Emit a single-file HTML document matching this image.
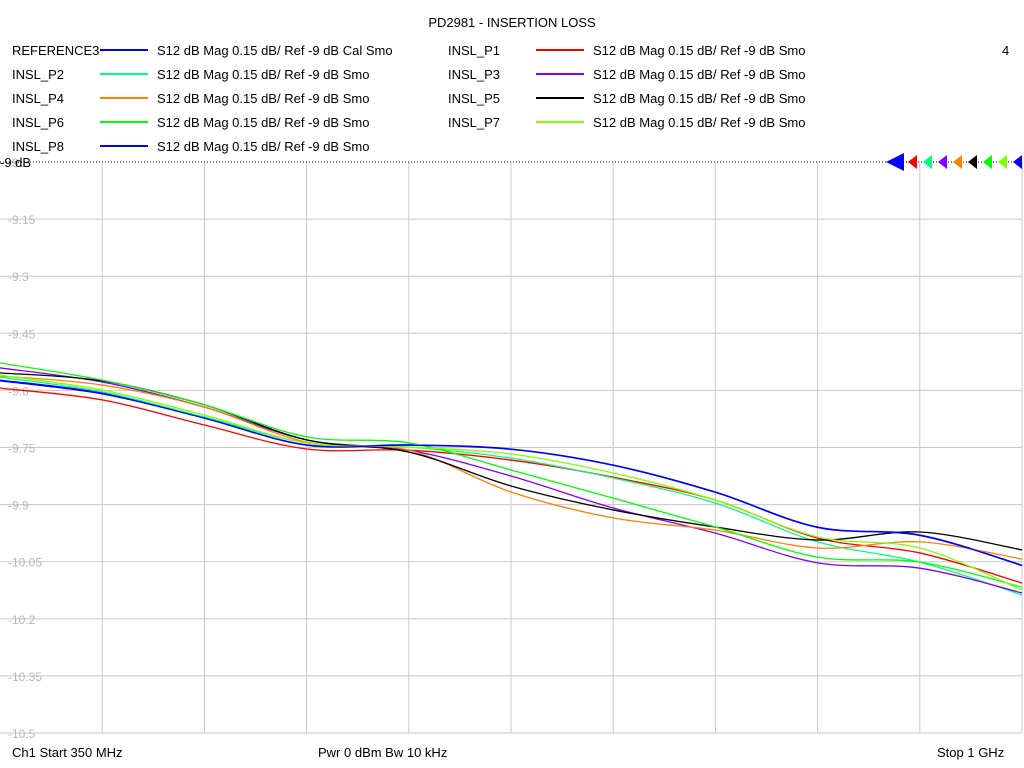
<!DOCTYPE html>
<html><head><meta charset="utf-8"><style>
body{margin:0;background:#fff;}
svg{display:block;font-family:"Liberation Sans",sans-serif;}
</style></head><body>
<svg id="chart" width="1024" height="768" viewBox="0 0 1024 768">
<rect width="1024" height="768" fill="#fff"/>
<text x="512" y="27" font-size="13" text-anchor="middle" fill="#000">PD2981 - INSERTION LOSS</text>
<g id="legend" font-size="13" fill="#000"></g>
<text x="1002" y="55" font-size="13">4</text>
<g id="grid"></g>
<g id="ylabels" font-size="12" fill="#b8b8b8"></g>
<line x1="0" y1="162" x2="1022" y2="162" stroke="#000" stroke-dasharray="1,2"/>
<text x="0" y="167" font-size="13" fill="#000">-9 dB</text>
<g id="markers"></g>
<g id="series"></g>
<text x="12" y="757" font-size="13">Ch1  Start  350 MHz</text>
<text x="318" y="757" font-size="13">Pwr  0 dBm  Bw  10 kHz</text>
<text x="937" y="757" font-size="13">Stop  1 GHz</text>
</svg>
<script>
const NS="http://www.w3.org/2000/svg";
const freqs=[350,415,480,545,610,675,740,805,870,935,1000];
const yTicks=[-9,-9.15,-9.3,-9.45,-9.6,-9.75,-9.9,-10.05,-10.2,-10.35,-10.5];
const seriesNames=["REFERENCE3","INSL_P1","INSL_P2","INSL_P3","INSL_P4","INSL_P5","INSL_P6","INSL_P7","INSL_P8"];
const seriesColors=["#0000ff","#ff0000","#00ff80","#8000ff","#ff8000","#000000","#00ff00","#80ff00","#0000ff"];
const seriesDesc=["S12  dB Mag  0.15 dB/ Ref -9 dB  Cal Smo","S12  dB Mag  0.15 dB/ Ref -9 dB  Smo","S12  dB Mag  0.15 dB/ Ref -9 dB  Smo","S12  dB Mag  0.15 dB/ Ref -9 dB  Smo","S12  dB Mag  0.15 dB/ Ref -9 dB  Smo","S12  dB Mag  0.15 dB/ Ref -9 dB  Smo","S12  dB Mag  0.15 dB/ Ref -9 dB  Smo","S12  dB Mag  0.15 dB/ Ref -9 dB  Smo","S12  dB Mag  0.15 dB/ Ref -9 dB  Smo"];
const ref3=[-9.573,-9.607,-9.672,-9.743,-9.743,-9.754,-9.796,-9.867,-9.959,-9.980,-10.059];
const p1=[-9.594,-9.625,-9.691,-9.754,-9.757,-9.783,-9.828,-9.888,-9.988,-10.027,-10.106];
const p2=[-9.565,-9.604,-9.670,-9.738,-9.749,-9.778,-9.830,-9.896,-9.998,-10.051,-10.137];
const p3=[-9.541,-9.578,-9.644,-9.730,-9.757,-9.825,-9.909,-9.975,-10.053,-10.067,-10.132];
const p4=[-9.562,-9.586,-9.644,-9.736,-9.757,-9.867,-9.935,-9.967,-10.014,-9.998,-10.043];
const p5=[-9.554,-9.575,-9.638,-9.730,-9.762,-9.851,-9.914,-9.959,-9.993,-9.972,-10.019];
const p6=[-9.528,-9.573,-9.638,-9.722,-9.738,-9.809,-9.883,-9.959,-10.038,-10.051,-10.117];
const p7=[-9.560,-9.599,-9.665,-9.738,-9.749,-9.767,-9.817,-9.888,-9.985,-10.014,-10.124];
const p8=[-9.575,-9.609,-9.673,-9.744,-9.744,-9.755,-9.797,-9.868,-9.960,-9.981,-10.060];
const seriesData=[ref3,p1,p2,p3,p4,p5,p6,p7,p8];

const X0=0,X1=1022,Y0=162,Y1=733;
const xScale=f=>X0+(f-350)/(1000-350)*(X1-X0);
const yScale=v=>Y0+(-9-v)/1.5*(Y1-Y0);

function mk(tag,attrs,parent){const e=document.createElementNS(NS,tag);for(const k in attrs)e.setAttribute(k,attrs[k]);parent.appendChild(e);return e;}

const grid=document.getElementById('grid');
for(let i=1;i<=10;i++){const x=X0+i*(X1-X0)/10;
const l=mk('line',{x1:x,y1:Y0,x2:x,y2:Y1,stroke:'#c8c8c8'},grid);

}
const yl=document.getElementById('ylabels');
yTicks.forEach((t,i)=>{const y=yScale(t);
if(i>0){const l=mk('line',{x1:0,y1:y,x2:X1,y2:y,stroke:'#c8c8c8'},grid);

}
const tx=mk('text',{x:8,y:y+5},yl);tx.textContent=String(t);

});

const leg=document.getElementById('legend');
seriesNames.forEach((n,i)=>{const col=i%2,row=Math.floor(i/2);const bx=col?436:0,y=50+row*24;
const g=mk('g',{},leg);


const t=mk('text',{x:bx+12,y:y+5},g);t.textContent=n;
mk('line',{x1:bx+100,y1:y,x2:bx+148,y2:y,stroke:seriesColors[i],'stroke-width':2},g);
const d=mk('text',{x:bx+157,y:y+5},g);d.textContent=seriesDesc[i];});

const mg=document.getElementById('markers');
const tri=mk('polygon',{points:'886,162 904,153 904,171',fill:seriesColors[0]},mg);


for(let i=1;i<seriesColors.length;i++){const x=908+(i-1)*15;
const p=mk('polygon',{points:`${x},162 ${x+9},155 ${x+9},169`,fill:seriesColors[i]},mg);

}

const sg=document.getElementById('series');
function pathFor(vals){const pts=vals.map((v,i)=>[xScale(freqs[i]),yScale(v)]);
let d=`M${pts[0][0]},${pts[0][1]}`;
for(let i=0;i<pts.length-1;i++){const p0=pts[Math.max(i-1,0)],p1=pts[i],p2=pts[i+1],p3=pts[Math.min(i+2,pts.length-1)];
const c1=[p1[0]+(p2[0]-p0[0])/6,p1[1]+(p2[1]-p0[1])/6],c2=[p2[0]-(p3[0]-p1[0])/6,p2[1]-(p3[1]-p1[1])/6];
d+=` C${c1[0]},${c1[1]} ${c2[0]},${c2[1]} ${p2[0]},${p2[1]}`;}return d;}
seriesData.forEach((vals,i)=>{const p=mk('path',{d:pathFor(vals),fill:'none',stroke:seriesColors[i],'stroke-width':1.3},sg);

});
</script>
</body></html>
